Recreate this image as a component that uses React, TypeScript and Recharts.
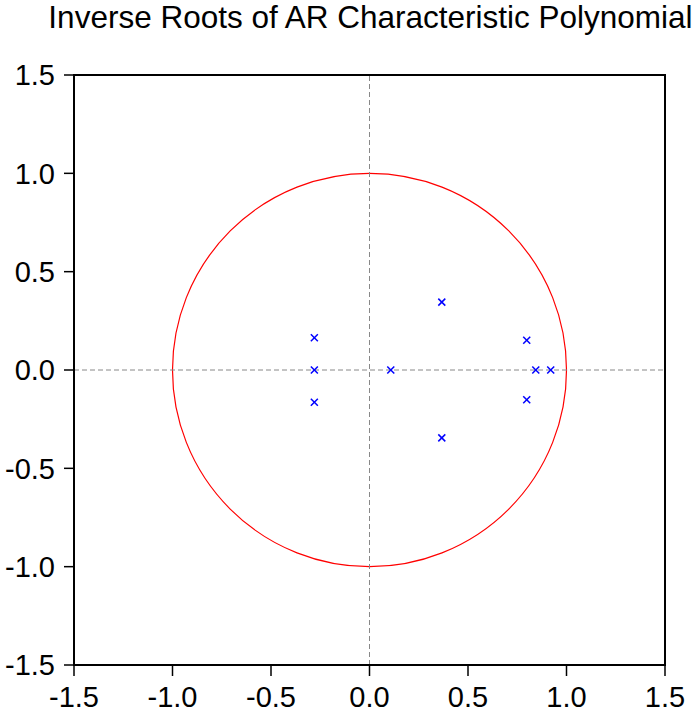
import { ReferenceArea, ReferenceLine, Scatter, ScatterChart, XAxis, YAxis } from 'recharts'

// inverse roots
const rootRe = [-0.28, -0.28, -0.28, 0.108, 0.367, 0.367, 0.798, 0.798, 0.844, 0.92]
const rootIm = [0.164, 0, -0.164, 0, 0.345, -0.345, 0.151, -0.151, 0, 0]
const ticks = [-1.5, -1.0, -0.5, 0.0, 0.5, 1.0, 1.5]

const roots = rootRe.map((re, i) => ({ re, im: rootIm[i] }))

const FONT = '"Liberation Sans", Arial, Helvetica, sans-serif'
const tickStyle = { fontSize: 29, fill: '#000', fontFamily: FONT }

function Cross(props: any) {
  const { cx, cy } = props
  const d = 3.5
  return (
    <g stroke="#0000ff" strokeWidth={1.5}>
      <line x1={cx - d} y1={cy - d} x2={cx + d} y2={cy + d} />
      <line x1={cx - d} y1={cy + d} x2={cx + d} y2={cy - d} />
    </g>
  )
}

// unit circle inscribed in the [-1,1] x [-1,1] square
function UnitCircle(props: any) {
  const { x, y, width, height } = props
  return (
    <ellipse
      cx={x + width / 2}
      cy={y + height / 2}
      rx={width / 2}
      ry={height / 2}
      fill="none"
      stroke="#ff0000"
      strokeWidth={1.2}
    />
  )
}

export default function App() {
  return (
    <div style={{ position: 'absolute', left: 0, top: 0, width: 697, height: 716, background: '#fff' }}>
      <div
        style={{
          position: 'absolute',
          left: 0,
          width: 741,
          top: -1,
          textAlign: 'center',
          fontFamily: FONT,
          fontSize: 31.5,
          color: '#000',
          whiteSpace: 'nowrap',
        }}
      >
        Inverse Roots of AR Characteristic Polynomial
      </div>
      <ScatterChart width={697} height={716} margin={{ top: 75, right: 32, bottom: 0, left: 0 }}>
        <XAxis
          type="number"
          dataKey="re"
          domain={[-1.5, 1.5]}
          ticks={ticks}
          tickFormatter={(v: number) => v.toFixed(1)}
          height={51}
          tickSize={11}
          tickMargin={10}
          tick={tickStyle}
          axisLine={{ stroke: '#000', strokeWidth: 2 }}
          tickLine={{ stroke: '#000', strokeWidth: 1.5 }}
          allowDataOverflow
        />
        <YAxis
          type="number"
          dataKey="im"
          domain={[-1.5, 1.5]}
          ticks={ticks}
          tickFormatter={(v: number) => v.toFixed(1)}
          width={74}
          tickSize={10}
          tickMargin={9}
          tick={tickStyle}
          axisLine={{ stroke: '#000', strokeWidth: 2 }}
          tickLine={{ stroke: '#000', strokeWidth: 1.5 }}
          allowDataOverflow
        />
        <ReferenceArea x1={-1.5} x2={1.5} y1={-1.5} y2={1.5} fill="none" stroke="#000" strokeWidth={2} fillOpacity={0} />
        <ReferenceLine x={0} stroke="#888" strokeDasharray="5 3" />
        <ReferenceLine y={0} stroke="#888" strokeDasharray="5 3" />
        <ReferenceArea x1={-1} x2={1} y1={-1} y2={1} shape={UnitCircle} />
        <Scatter data={roots} shape={Cross} isAnimationActive={false} />
      </ScatterChart>
    </div>
  )
}
